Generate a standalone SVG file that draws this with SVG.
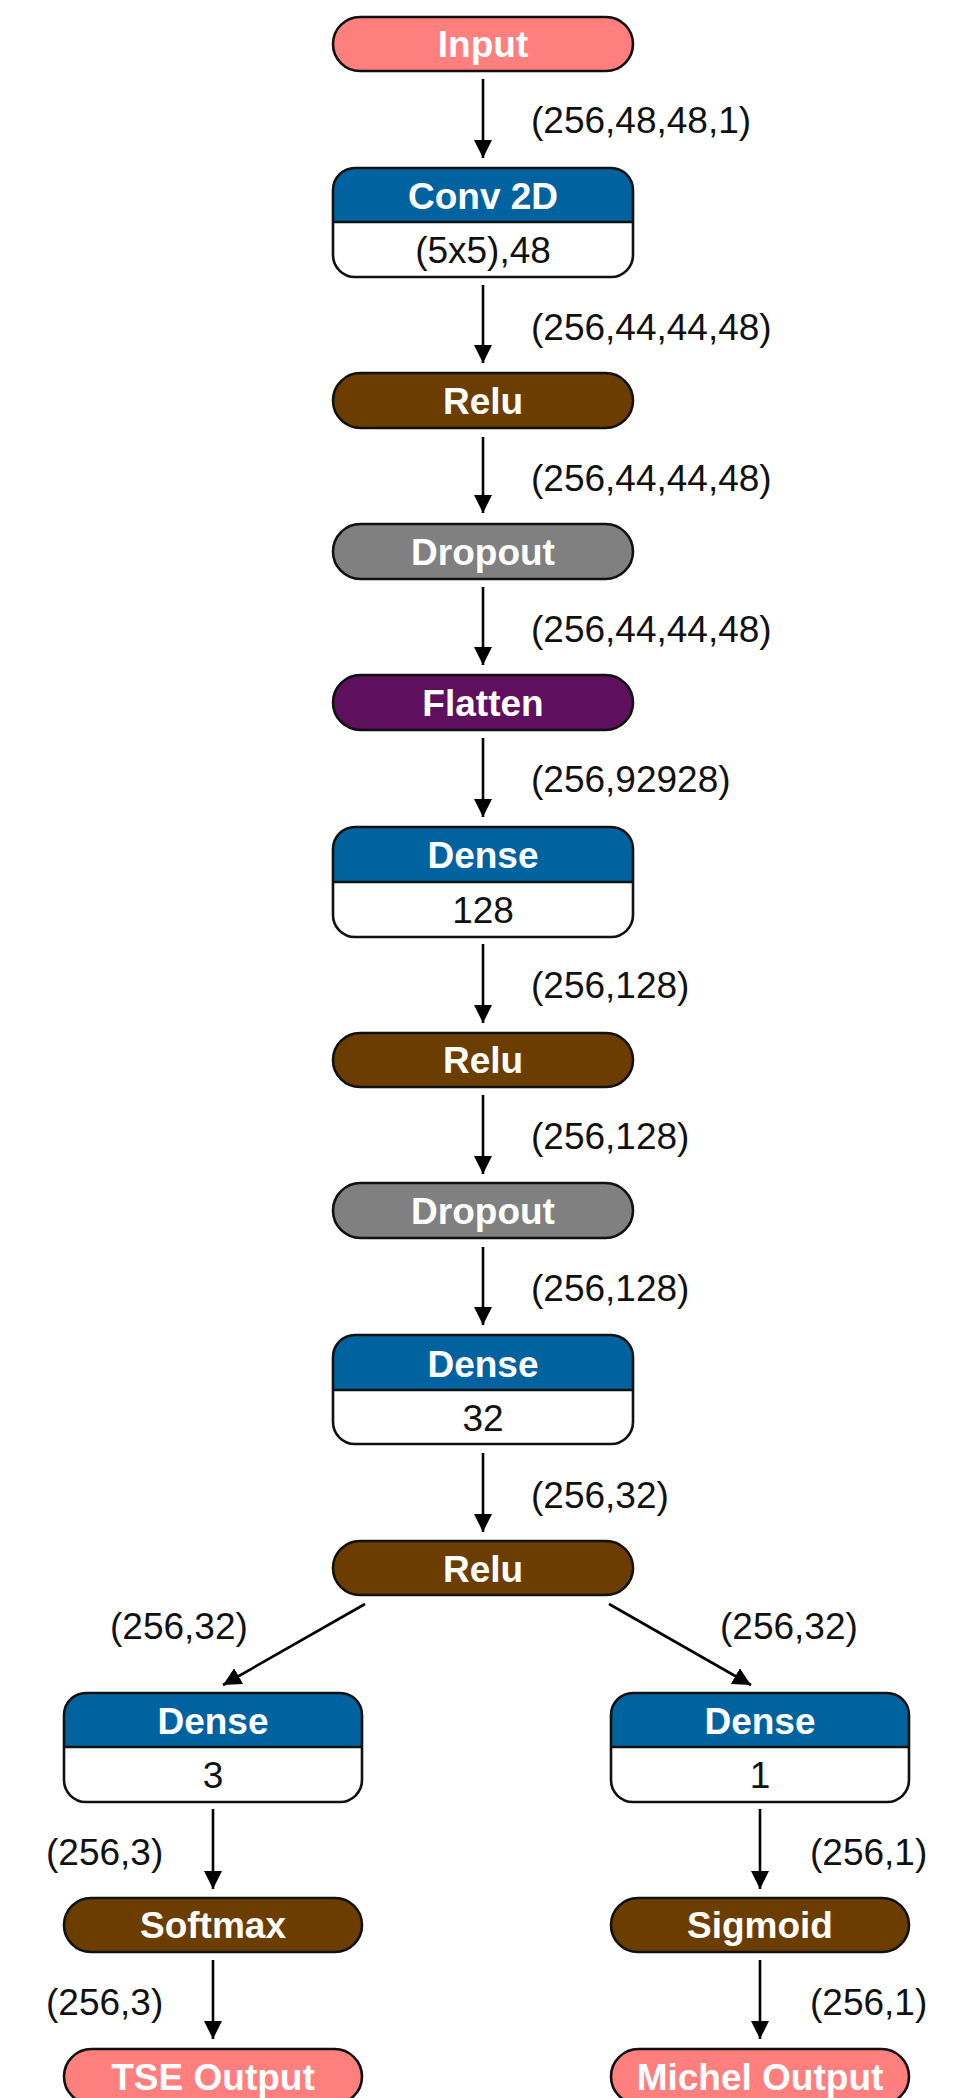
<svg xmlns="http://www.w3.org/2000/svg" width="969" height="2098" viewBox="0 0 969 2098">
<style>
  .pill { stroke: #111; stroke-width: 2.6; }
  .box { stroke: #111; stroke-width: 2.6; fill: none; }
  .white { fill: #ffffff; }
  .pink { fill: #FF7F7F; }
  .blue { fill: #0063A0; }
  .brown { fill: #6B3E00; }
  .gray { fill: #808080; }
  .purple { fill: #5E0F5E; }
  .title { font-family: "Liberation Sans", Arial, sans-serif; font-weight: bold; font-size: 37px; fill: #ffffff; text-anchor: middle; }
  .body { font-family: "Liberation Sans", Arial, sans-serif; font-size: 37px; fill: #111; text-anchor: middle; }
  .lbl { font-family: "Liberation Sans", Arial, sans-serif; font-size: 37px; fill: #111; }
  .edge { stroke: #000; stroke-width: 2.6; fill: none; marker-end: url(#arrow); }
  .div { stroke: #111; stroke-width: 2.6; }
</style>
<defs>
  <marker id="arrow" markerUnits="userSpaceOnUse" viewBox="0 0 18 18" refX="18" refY="9" markerWidth="18" markerHeight="18" orient="auto">
    <path d="M0,0 L18,9 L0,18 z" fill="#000"/>
  </marker>
</defs>
<rect width="969" height="2098" fill="#ffffff"/>

<g id="connectors">
  <line class="edge" x1="483" y1="79" x2="483" y2="158"/>
  <line class="edge" x1="483" y1="285" x2="483" y2="363"/>
  <line class="edge" x1="483" y1="437" x2="483" y2="513"/>
  <line class="edge" x1="483" y1="587" x2="483" y2="665"/>
  <line class="edge" x1="483" y1="738" x2="483" y2="817"/>
  <line class="edge" x1="483" y1="944" x2="483" y2="1023"/>
  <line class="edge" x1="483" y1="1095" x2="483" y2="1174"/>
  <line class="edge" x1="483" y1="1247" x2="483" y2="1325"/>
  <line class="edge" x1="483" y1="1453" x2="483" y2="1532"/>
  <line class="edge" x1="365" y1="1604" x2="223" y2="1685"/>
  <line class="edge" x1="609" y1="1604" x2="751" y2="1685"/>
  <line class="edge" x1="213" y1="1809" x2="213" y2="1889"/>
  <line class="edge" x1="760" y1="1809" x2="760" y2="1889"/>
  <line class="edge" x1="213" y1="1960" x2="213" y2="2039"/>
  <line class="edge" x1="760" y1="1960" x2="760" y2="2039"/>
  <text class="lbl" x="531" y="133">(256,48,48,1)</text>
  <text class="lbl" x="531" y="340">(256,44,44,48)</text>
  <text class="lbl" x="531" y="491">(256,44,44,48)</text>
  <text class="lbl" x="531" y="642">(256,44,44,48)</text>
  <text class="lbl" x="531" y="792">(256,92928)</text>
  <text class="lbl" x="531" y="998">(256,128)</text>
  <text class="lbl" x="531" y="1149">(256,128)</text>
  <text class="lbl" x="531" y="1301">(256,128)</text>
  <text class="lbl" x="531" y="1508">(256,32)</text>
  <text class="lbl" x="110" y="1639">(256,32)</text>
  <text class="lbl" x="720" y="1639">(256,32)</text>
  <text class="lbl" x="46" y="1865">(256,3)</text>
  <text class="lbl" x="810" y="1865">(256,1)</text>
  <text class="lbl" x="46" y="2015">(256,3)</text>
  <text class="lbl" x="810" y="2015">(256,1)</text>
</g>

<g id="input">
  <rect class="pill pink" x="333" y="17" width="300" height="54" rx="27"/>
  <text class="title" x="483" y="57">Input</text>
</g>

<g id="conv2d">
  <path class="blue" d="M333,222 V190 a22,22 0 0 1 22,-22 H611 a22,22 0 0 1 22,22 V222 z"/>
  <path class="white" d="M333,222 V255 a22,22 0 0 0 22,22 H611 a22,22 0 0 0 22,-22 V222 z"/>
  <rect class="box" x="333" y="168" width="300" height="109" rx="22"/>
  <line class="div" x1="333" y1="222" x2="633" y2="222"/>
  <text class="title" x="483" y="209">Conv 2D</text>
  <text class="body" x="483" y="263">(5x5),48</text>
</g>

<g id="relu1">
  <rect class="pill brown" x="333" y="373" width="300" height="55" rx="27.5"/>
  <text class="title" x="483" y="414">Relu</text>
</g>

<g id="dropout1">
  <rect class="pill gray" x="333" y="524" width="300" height="55" rx="27.5"/>
  <text class="title" x="483" y="565">Dropout</text>
</g>

<g id="flatten">
  <rect class="pill purple" x="333" y="675" width="300" height="55" rx="27.5"/>
  <text class="title" x="483" y="716">Flatten</text>
</g>

<g id="dense128">
  <path class="blue" d="M333,882 V849 a22,22 0 0 1 22,-22 H611 a22,22 0 0 1 22,22 V882 z"/>
  <path class="white" d="M333,882 V915 a22,22 0 0 0 22,22 H611 a22,22 0 0 0 22,-22 V882 z"/>
  <rect class="box" x="333" y="827" width="300" height="110" rx="22"/>
  <line class="div" x1="333" y1="882" x2="633" y2="882"/>
  <text class="title" x="483" y="868">Dense</text>
  <text class="body" x="483" y="923">128</text>
</g>

<g id="relu2">
  <rect class="pill brown" x="333" y="1033" width="300" height="54" rx="27"/>
  <text class="title" x="483" y="1073">Relu</text>
</g>

<g id="dropout2">
  <rect class="pill gray" x="333" y="1183" width="300" height="55" rx="27.5"/>
  <text class="title" x="483" y="1224">Dropout</text>
</g>

<g id="dense32">
  <path class="blue" d="M333,1390 V1357 a22,22 0 0 1 22,-22 H611 a22,22 0 0 1 22,22 V1390 z"/>
  <path class="white" d="M333,1390 V1422 a22,22 0 0 0 22,22 H611 a22,22 0 0 0 22,-22 V1390 z"/>
  <rect class="box" x="333" y="1335" width="300" height="109" rx="22"/>
  <line class="div" x1="333" y1="1390" x2="633" y2="1390"/>
  <text class="title" x="483" y="1377">Dense</text>
  <text class="body" x="483" y="1431">32</text>
</g>

<g id="relu3">
  <rect class="pill brown" x="333" y="1541" width="300" height="54" rx="27"/>
  <text class="title" x="483" y="1582">Relu</text>
</g>

<g id="dense3">
  <path class="blue" d="M64,1747 V1715 a22,22 0 0 1 22,-22 H340 a22,22 0 0 1 22,22 V1747 z"/>
  <path class="white" d="M64,1747 V1780 a22,22 0 0 0 22,22 H340 a22,22 0 0 0 22,-22 V1747 z"/>
  <rect class="box" x="64" y="1693" width="298" height="109" rx="22"/>
  <line class="div" x1="64" y1="1747" x2="362" y2="1747"/>
  <text class="title" x="213" y="1734">Dense</text>
  <text class="body" x="213" y="1788">3</text>
</g>

<g id="dense1">
  <path class="blue" d="M611,1747 V1715 a22,22 0 0 1 22,-22 H887 a22,22 0 0 1 22,22 V1747 z"/>
  <path class="white" d="M611,1747 V1780 a22,22 0 0 0 22,22 H887 a22,22 0 0 0 22,-22 V1747 z"/>
  <rect class="box" x="611" y="1693" width="298" height="109" rx="22"/>
  <line class="div" x1="611" y1="1747" x2="909" y2="1747"/>
  <text class="title" x="760" y="1734">Dense</text>
  <text class="body" x="760" y="1788">1</text>
</g>

<g id="softmax">
  <rect class="pill brown" x="64" y="1898" width="298" height="54" rx="27"/>
  <text class="title" x="213" y="1938">Softmax</text>
</g>

<g id="sigmoid">
  <rect class="pill brown" x="611" y="1898" width="298" height="54" rx="27"/>
  <text class="title" x="760" y="1938">Sigmoid</text>
</g>

<g id="tse-output">
  <rect class="pill pink" x="64" y="2049" width="298" height="55" rx="27.5"/>
  <text class="title" x="213" y="2090">TSE Output</text>
</g>

<g id="michel-output">
  <rect class="pill pink" x="611" y="2049" width="298" height="55" rx="27.5"/>
  <text class="title" x="760" y="2090">Michel Output</text>
</g>
</svg>
